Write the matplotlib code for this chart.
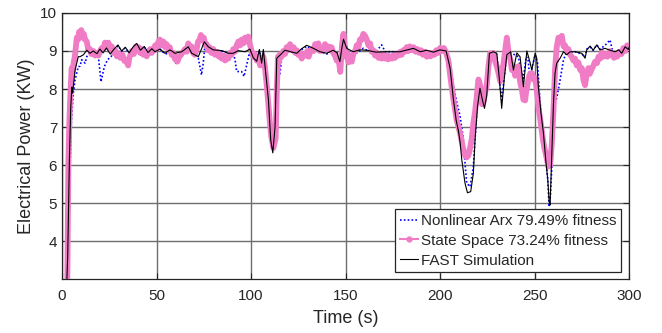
import matplotlib
matplotlib.use("Agg")
import matplotlib.pyplot as plt
from matplotlib.lines import Line2D

# ---------------- data ----------------
t_fast = [0, 2, 3, 3.9, 4.6, 5.2, 5.6, 6.9, 8.6, 9.5, 11.3, 13.1, 14.8, 16.5, 18.5, 20, 21.7, 23.5, 25.5, 27.5,
          29.6, 31.5, 33.5, 35.5, 37.5, 39.5, 41.5, 43.5, 45.5, 47.5, 49.2, 51.8, 54.5, 57.1, 59.8, 63.3, 66.8, 68.6,
          72.1, 75.3, 77.4, 80, 84.5, 88, 90.6, 93.3, 96.8, 99.4, 101.2, 103, 104.4, 105.6, 106.5, 109.2, 110.4,
          111.5, 112.7, 113.6, 115.3, 117.9, 121, 124.2, 126.5, 129.4, 133, 136.5, 140, 143.5, 145.5, 147, 148,
          148.9, 150.6, 154.1, 157.5, 161.2, 166, 171.8, 178.8, 182, 185.9, 189.5, 192.9, 196.5, 200, 203.2, 205.3,
          207, 208.5, 209.7, 210.6, 211.5, 213.2, 214.5, 216.2, 217.6, 218.5, 219.8, 221.1, 222.4, 223.5, 224.7,
          226.1, 228.2, 230, 231.4, 232.6, 233.9, 235.3, 237.3, 238.8, 240.6, 242.3, 244.1, 245.9, 247.6, 248.5,
          250.3, 251.1, 252, 253.4, 254.7, 255.9, 257, 257.7, 258.2, 259.1, 260, 260.8, 261.7, 263.5, 265.3, 267,
          268.8, 271.4, 275, 276.7, 277.6, 279.4, 281, 282.9, 284.6, 287.3, 289.9, 292.6, 294.5, 296.1, 297.9,
          299.6, 300]
p_fast = [1.0, 2.2, 3.6, 6.13, 7.5, 8.05, 7.89, 8.5, 8.85, 8.85, 8.9, 9.02, 8.94, 9.0, 8.93, 9.05, 8.95, 9.08, 8.92,
          9.05, 9.16, 9.0, 9.1, 8.95, 9.1, 9.2, 9.02, 9.12, 8.96, 9.06, 8.98, 9.05, 8.94, 9.03, 8.94, 8.98, 9.11,
          8.94, 8.85, 9.24, 9.11, 9.03, 9.01, 8.94, 8.94, 9.01, 8.98, 9.05, 8.82, 8.73, 9.04, 8.68, 9.04, 7.71, 6.66,
          6.32, 7.01, 8.81, 8.89, 9.02, 8.98, 8.94, 9.05, 9.15, 9.07, 8.98, 8.94, 9.02, 8.95, 8.72, 9.07, 9.31, 9.07,
          8.98, 9.03, 9.02, 8.97, 8.98, 8.98, 9.02, 9.07, 8.98, 9.02, 8.97, 9.03, 9.0, 8.55, 7.75, 7.18, 6.9, 6.6,
          6.13, 5.52, 5.27, 5.3, 5.78, 6.66, 7.54, 8.02, 7.71, 7.49, 7.84, 8.94, 8.98, 8.94, 8.24, 7.49, 8.24, 8.9,
          8.98, 8.5, 8.95, 8.85, 8.06, 9.0, 8.7, 8.5, 8.94, 8.81, 8.06, 7.36, 6.83, 6.13, 5.6, 5.04, 4.95, 6.3, 7.62,
          8.41, 8.68, 8.81, 8.98, 8.9, 8.98, 8.98, 8.94, 8.81, 9.03, 9.13, 9.02, 9.16, 9.03, 9.07, 9.02, 8.98, 9.03,
          8.94, 9.11, 9.04, 9.1]

t_narx = [0, 2, 3, 4, 5, 6, 6.9, 8.6, 9.5, 10.4, 12.2, 13.1, 14.8, 16.5, 18, 19.2, 20, 20.6, 22.4, 24.1, 25.9,
          27.7, 29.6, 31.5, 33.5, 35.5, 37.5, 39.5, 41.5, 43.5, 45.5, 47.5, 49.2, 51.8, 54.5, 57, 58.9, 60.6, 62,
          63.3, 66.8, 68.6, 70.5, 72.1, 73.8, 74.7, 75.6, 77.4, 80, 84.5, 88, 90.6, 91.5, 92.4, 95, 96.3, 97.7, 99.1,
          101.2, 103, 104.4, 105.6, 106.5, 108, 109.2, 110.2, 110.9, 111.8, 112.7, 113.6, 114.4, 115.3, 116.2, 117.9,
          121, 124.2, 126.5, 129.4, 131.5, 134, 136.5, 140, 143.5, 145.5, 147, 148, 149, 150.6, 151.5, 152.4, 154.1,
          156, 159.4, 162, 166, 169.1, 171, 175, 178.8, 182, 185.9, 189.5, 192.9, 196.5, 200, 203.2, 205.3, 207,
          208.8, 210.6, 212.3, 213.2, 214.1, 215.9, 217.6, 218.5, 220.3, 221.8, 223.5, 225.6, 226.5, 228.2, 230,
          231.4, 232.6, 233.9, 235.3, 237.3, 239.5, 241.4, 242.5, 244.1, 245.5, 246.5, 247.6, 248.8, 250.3, 251.5,
          253, 254.7, 255.9, 257, 257.7, 258.4, 259.2, 259.9, 260.8, 261.7, 263.5, 265.3, 267, 268.8, 271.4, 275,
          276.7, 277.6, 279.4, 281, 282.9, 284.6, 287.3, 289.9, 291, 292.6, 294.5, 296.1, 297.9, 299.6, 300]
p_narx = [1.0, 2.0, 3.2, 5.5, 7.2, 7.9, 8.24, 8.59, 8.6, 8.77, 8.68, 8.85, 8.98, 8.95, 8.9, 8.85, 8.5, 8.19, 8.59,
          8.77, 8.85, 8.98, 9.14, 9.0, 9.08, 8.95, 9.08, 9.15, 9.0, 9.1, 8.95, 9.05, 8.96, 9.05, 8.92, 8.95, 8.81,
          8.64, 8.85, 8.95, 9.08, 8.94, 8.9, 8.81, 8.37, 8.68, 9.15, 9.1, 9.02, 9.0, 8.94, 8.92, 8.78, 8.46, 8.46,
          8.33, 8.63, 8.94, 8.8, 8.72, 9.0, 8.7, 8.95, 8.6, 7.97, 7.3, 6.92, 6.5, 6.9, 8.41, 8.28, 8.41, 8.8, 9.0,
          8.97, 8.94, 9.03, 9.12, 9.05, 9.2, 8.98, 8.92, 9.0, 8.95, 8.75, 9.05, 9.2, 9.16, 8.94, 8.87, 9.0, 8.95,
          9.07, 9.0, 8.98, 9.16, 8.98, 8.98, 8.98, 9.0, 9.05, 8.98, 9.0, 8.97, 9.03, 9.02, 8.7, 8.1, 7.66, 7.28, 6.7,
          6.04, 5.52, 5.43, 5.96, 6.7, 7.97, 7.85, 7.6, 8.59, 8.94, 8.94, 8.9, 8.2, 7.71, 8.3, 8.9, 8.95, 8.9, 8.85,
          8.55, 8.28, 8.85, 8.8, 8.24, 8.6, 8.9, 8.7, 7.6, 6.8, 6.2, 5.6, 4.9, 5.2, 6.0, 6.75, 7.71, 7.75, 8.24, 8.77,
          8.98, 8.95, 8.98, 8.92, 8.85, 9.05, 9.1, 9.02, 9.16, 9.05, 9.15, 9.29, 9.05, 8.98, 9.02, 8.94, 9.1, 9.04,
          9.08]

t_ss = [0, 2, 2.8, 3.4, 3.9, 4.6, 5.1, 5.6, 6.2, 6.9, 7.4, 7.8, 8.5, 9.0, 9.5, 10.2, 11, 11.5, 12.2, 13.1, 13.8,
        14.8, 15.5, 16.6, 17.5, 18.5, 19.3, 20.1, 21, 21.9, 22.7, 23.6, 24.5, 25.5, 26.3, 27.2, 28.2, 29, 29.8,
        30.8, 32, 33, 34.2, 35, 35.5, 36.2, 36.9, 38, 39, 39.5, 40.5, 41.3, 42, 43, 44, 44.8, 45.8, 46.6, 47.5,
        48.5, 49.3, 50.1, 51, 51.8, 52.7, 53.6, 54.5, 55.3, 56.2, 57, 58, 59, 59.8, 60.5, 61, 62, 63, 64, 65, 65.9,
        66.8, 67.6, 68.5, 69.3, 70.3, 71.2, 72, 72.8, 73.5, 74.3, 75, 75.8, 76.5, 77.3, 78, 79, 80, 81, 82, 83, 84,
        84.5, 85.5, 86.3, 87.1, 88, 88.9, 89.8, 90.6, 91.5, 92.4, 93.3, 94.2, 95, 95.9, 96.8, 97.7, 98.5, 99.2,
        99.8, 100.5, 101.2, 102, 103, 103.8, 104.8, 105.6, 106.5, 107.3, 108.3, 109.3, 110, 110.7, 111.8, 113,
        113.6, 114.2, 114.8, 115.3, 116.2, 117.1, 118, 118.8, 119.7, 120.6, 121.5, 122.5, 123.4, 124.2, 125, 126,
        126.8, 127.8, 129, 129.8, 130.5, 131.3, 132.1, 133, 133.9, 134.7, 135.6, 136.3, 137, 138, 139.1, 140, 141,
        141.8, 142.6, 143.5, 144.4, 145.3, 146.3, 147.2, 148.2, 148.9, 149.5, 150, 150.8, 151.5, 152.4, 153.3,
        154.2, 155.1, 155.9, 156.8, 157.6, 158.5, 159.4, 160.3, 161.2, 162.1, 163, 163.8, 164.7, 165.6, 166.5,
        167.4, 168.3, 169.2, 170.1, 171, 172, 172.6, 173.5, 174.5, 175.5, 176.2, 177.2, 178, 179, 179.7, 180.5,
        181.5, 182.3, 183.2, 184, 185, 186, 187, 188, 189, 190, 191, 192, 193, 194, 195, 196, 197, 198, 199.1, 200,
        201, 202, 203, 204.4, 205.5, 207, 208.8, 210.6, 212, 213.2, 214.1, 215, 215.9, 216.8, 217.6, 218.5, 219.4,
        220.3, 221.2, 222.2, 223, 223.8, 224.7, 225.6, 226.5, 227.4, 228.2, 229, 230, 231, 231.8, 232.7, 233.5,
        234.4, 235.3, 235.9, 236.5, 237.3, 238, 238.8, 239.7, 240.5, 241.4, 242.3, 243.2, 244.1, 245, 245.6, 246.2,
        246.9, 247.6, 248.5, 249.4, 250.3, 251.1, 252.1, 253, 253.8, 254.5, 255.2, 255.9, 256.5, 257.3, 258.2,
        259.1, 260, 260.8, 261.7, 262.6, 263.5, 264.4, 265.3, 266.1, 267, 267.9, 268.8, 269.6, 270.5, 271.4, 272.3,
        273.2, 274.1, 275, 275.8, 276.7, 277.6, 278.5, 279.2, 280, 281, 282, 283, 283.8, 284.7, 285.5, 286.5,
        287.5, 288.6, 289.9, 291, 292, 292.6, 293.7, 295, 296, 297, 298, 299, 299.6, 300]
p_ss = [1.0, 2.0, 3.0, 6.13, 7.18, 8.06, 8.55, 8.45, 8.7, 8.9, 9.15, 9.35, 9.3, 9.5, 9.42, 9.55, 9.35, 9.45, 9.3,
        9.25, 9.05, 9.05, 8.92, 9.0, 8.88, 8.95, 8.88, 9.0, 9.08, 9.05, 9.22, 9.12, 9.22, 9.05, 9.12, 8.95, 9.02,
        8.86, 8.95, 8.82, 8.9, 8.74, 8.72, 8.62, 8.8, 8.9, 9.0, 8.92, 9.12, 9.05, 9.1, 8.95, 9.05, 8.9, 8.98, 8.86,
        8.96, 9.05, 8.95, 9.05, 9.15, 9.05, 9.25, 9.3, 9.15, 9.25, 9.1, 9.18, 9.05, 9.1, 8.9, 8.95, 8.78, 8.85,
        8.72, 8.85, 8.9, 8.98, 9.05, 8.98, 9.2, 9.1, 9.12, 8.95, 8.9, 9.05, 9.25, 9.3, 9.42, 9.28, 9.35, 9.15, 9.18,
        9.02, 9.1, 8.95, 9.05, 8.9, 8.98, 8.85, 8.9, 8.8, 8.88, 8.75, 8.85, 8.8, 8.95, 8.9, 9.05, 8.98, 9.15, 9.25,
        9.15, 9.3, 9.2, 9.35, 9.25, 9.38, 9.2, 9.1, 8.95, 8.85, 8.92, 8.75, 8.85, 8.62, 8.72, 8.85, 8.6, 8.1, 7.5,
        7.1, 6.75, 6.45, 6.7, 7.9, 8.85, 8.7, 8.92, 8.85, 9.0, 8.92, 9.1, 9.02, 9.18, 9.05, 9.1, 8.95, 9.02, 8.9,
        8.95, 8.8, 8.92, 8.88, 9.0, 8.85, 8.98, 9.05, 9.0, 9.18, 9.12, 9.2, 9.0, 9.08, 9.0, 9.18, 9.05, 9.12, 9.02,
        9.1, 8.95, 8.88, 8.75, 8.8, 8.45, 9.2, 9.45, 9.1, 8.85, 8.95, 8.7, 8.8, 8.72, 8.95, 9.0, 9.15, 9.1, 9.3,
        9.3, 9.45, 9.4, 9.3, 9.15, 9.2, 8.98, 9.02, 8.88, 8.95, 8.82, 8.9, 8.8, 8.9, 8.8, 8.88, 8.78, 8.86, 8.8,
        8.9, 8.82, 8.92, 8.88, 8.98, 8.9, 9.02, 8.98, 9.1, 9.0, 9.12, 9.02, 9.1, 8.98, 9.05, 8.95, 9.02, 8.9, 8.98,
        8.85, 8.95, 8.86, 8.95, 8.9, 9.02, 8.95, 9.08, 9.0, 9.08, 8.98, 8.75, 8.3, 7.75, 7.18, 6.83, 6.48, 6.25,
        6.2, 6.25, 6.45, 6.7, 7.1, 7.4, 7.8, 8.25, 8.1, 7.6, 7.65, 7.9, 8.1, 8.6, 8.94, 8.85, 8.95, 8.75, 8.6, 8.4,
        8.2, 8.45, 8.65, 9.0, 9.35, 9.1, 8.9, 8.75, 8.5, 8.6, 8.35, 8.55, 8.6, 8.2, 8.0, 7.72, 7.7, 7.95, 8.1, 8.3,
        8.4, 8.42, 8.25, 8.3, 8.0, 7.5, 7.2, 6.9, 6.65, 6.45, 6.3, 6.15, 5.96, 6.0, 6.55, 7.45, 8.5, 9.1, 9.35, 9.3,
        9.4, 9.12, 9.15, 9.0, 9.05, 8.9, 8.85, 8.75, 8.8, 8.62, 8.7, 8.5, 8.55, 8.25, 8.1, 8.4, 8.55, 8.4, 8.5, 8.6,
        8.72, 8.68, 8.85, 8.8, 8.98, 8.85, 8.92, 8.85, 9.0, 8.9, 8.82, 8.9, 8.85, 8.98, 8.92, 9.08, 9.0, 9.15, 9.08,
        9.12]

labels = ["Nonlinear Arx 79.49% fitness", "State Space 73.24% fitness", "FAST Simulation"]
x_ticks = [0, 50, 100, 150, 200, 250, 300]
y_ticks = [4, 5, 6, 7, 8, 9, 10]

# ---------------- style ----------------
plt.rcParams['font.family'] = ['Liberation Sans', 'DejaVu Sans']
txt = '#262626'
c_blue = '#0000ff'
c_pink = '#f07cc6'
c_black = '#000000'

fig = plt.figure(figsize=(6.62, 3.33), dpi=100)
ax = fig.add_axes([0.0937, 0.162, 0.8566, 0.799])

ax.plot(t_narx, p_narx, color=c_blue, lw=1.2, ls=(0, (1, 1.3)), zorder=3)
ax.plot(t_ss, p_ss, color=c_pink, lw=4.2, solid_joinstyle='round', solid_capstyle='round', zorder=4)
ax.plot(t_fast, p_fast, color=c_black, lw=0.8, zorder=5)

ax.set_xlim(0, 300)
ax.set_ylim(3, 10)
ax.set_xticks(x_ticks)
ax.set_yticks(y_ticks)
ax.grid(True, color='#6e6e6e', lw=1.0, zorder=1)
ax.set_axisbelow(True)
ax.tick_params(direction='in', length=4, width=0.8, colors=txt, labelsize=11,
               top=True, right=True, labelcolor=txt)
ax.tick_params(axis='x', pad=7)
for s in ax.spines.values():
    s.set_color('#262626')
    s.set_linewidth(0.9)

ax.set_xlabel('Time (s)', fontsize=13, color=txt, labelpad=5)
ax.set_ylabel('Electrical Power (KW)', fontsize=13, color=txt, labelpad=4)

handles = [Line2D([], [], color=c_blue, lw=1.2, ls=(0, (1, 1.3))),
           Line2D([], [], color=c_pink, lw=1.5, marker='o', ms=3.5),
           Line2D([], [], color=c_black, lw=0.8)]
leg = ax.legend(handles, labels, loc='lower right', bbox_to_anchor=(0.986, 0.026),
                borderaxespad=0, fontsize=11, frameon=True, fancybox=False,
                handlelength=1.2, handletextpad=0.2, borderpad=0.3, labelspacing=0.38)
leg.get_frame().set_edgecolor('#262626')
leg.get_frame().set_linewidth(0.9)
leg.get_frame().set_alpha(1)
leg.set_zorder(10)
for tx in leg.get_texts():
    tx.set_color(txt)

fig.savefig('out.png', dpi=100)
